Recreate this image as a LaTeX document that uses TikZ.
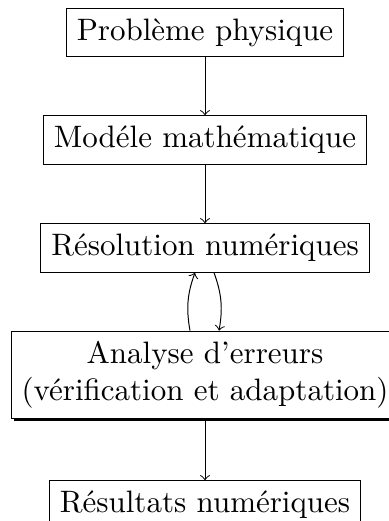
\documentclass[tikz,border=0pt]{standalone}
\usetikzlibrary{shadows}
\begin{document}
\begin{tikzpicture}[x=0.3226pt,y=-0.3226pt, line width=0.32pt,
  box/.style={draw, rectangle, align=center},
  shbox/.style={box, fill=white, drop shadow={shadow xshift=0.8pt, shadow yshift=-0.8pt, fill=black, opacity=1}},
  arr/.style={->}]
  \useasboundingbox (0,0) rectangle (389,521);
  \node[box] (phys) at (205,32.5) {Problème physique};
  \node[box] (model) at (205,140) {Modéle mathématique};
  \node[box] (resol) at (205,248) {Résolution numériques};
  \node[shbox] (anal) at (205,375) {Analyse d'erreurs\\(vérification et adaptation)};
  \node[box] (res) at (205,505) {Résultats numériques};
  \draw[arr] (phys) -- (model);
  \draw[arr] (model) -- (resol);
  \draw[arr] (anal.north -| 190,0) to[bend left=15] (resol.south -| 195,0);
  \draw[arr] (resol.south -| 214,0) to[bend left=15] (anal.north -| 219,0);
  \draw[arr] (anal.south -| 205,0) -- (res);
\end{tikzpicture}
\end{document}
